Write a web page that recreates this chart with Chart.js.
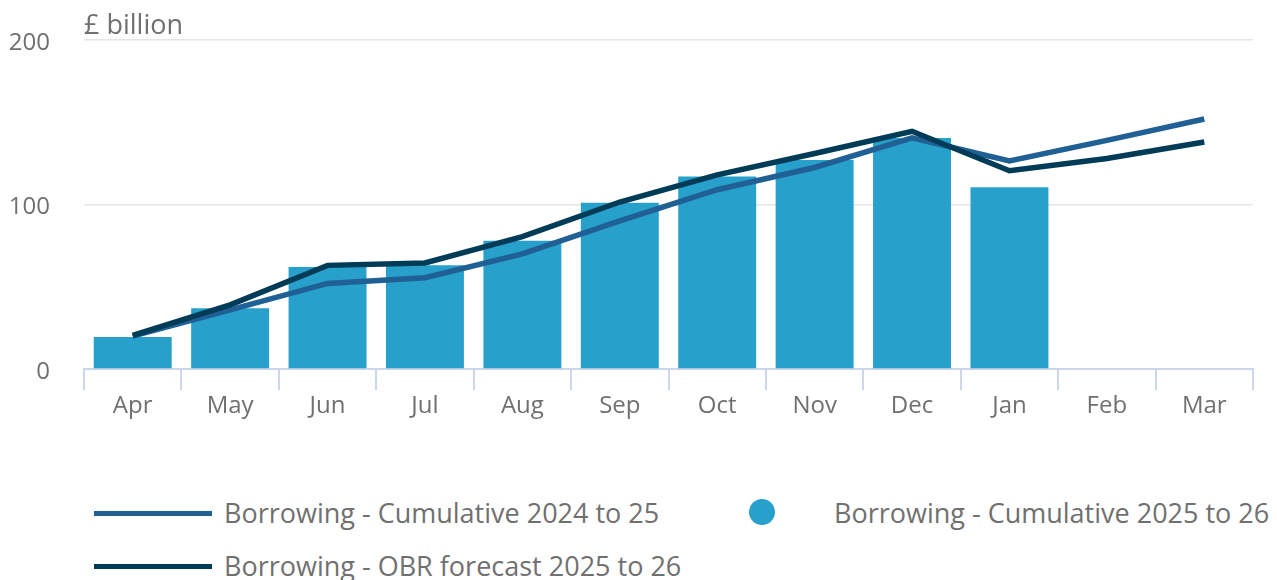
<!DOCTYPE html>
<html>
<head>
<meta charset="utf-8">
<script src="https://cdn.jsdelivr.net/npm/chart.js@4.4.1/dist/chart.umd.min.js"></script>
<style>
  html, body { margin: 0; padding: 0; background: #ffffff; overflow: hidden; }
  #wrap { position: relative; width: 1277px; height: 580px; }
  #chartBox { position: absolute; left: 0; top: 0; width: 1277px; height: 440px; }
  .legText { position: absolute; font-family: 'Open Sans', sans-serif; font-size: 27px; color: #707070; line-height: 27px; white-space: nowrap; }
  .legLine { position: absolute; width: 118px; height: 5px; }
  .legDot { position: absolute; width: 26px; height: 26px; border-radius: 50%; }
</style>
</head>
<body>
<div id="wrap">
  <div id="chartBox"><canvas id="c"></canvas></div>
  <div id="unit" class="legText" style="left:84px;top:10px">£ billion</div>
  <div id="legend"></div>
</div>
<script>
// ---- data ----
const months = ['Apr', 'May', 'Jun', 'Jul', 'Aug', 'Sep', 'Oct', 'Nov', 'Dec', 'Jan', 'Feb', 'Mar'];
const cumulative2526 = [19.5, 37, 62, 63, 78, 101, 117, 127, 140.5, 110.5, null, null];
const cumulative2425 = [20, 36, 52, 55.5, 70, 90, 109, 122.5, 140.5, 126.5, 139, 152];
const obrForecast2526 = [20.5, 39, 63, 64.5, 80.5, 101.5, 118, 131, 144.5, 120.5, 128, 138];
const yTicks = [0, 100, 200];
const seriesNames = ['Borrowing - Cumulative 2024 to 25', 'Borrowing - Cumulative 2025 to 26', 'Borrowing - OBR forecast 2025 to 26'];

const COL_BAR = '#27a0cc';
const COL_L1 = '#206095';
const COL_L2 = '#003c57';
const TEXT = '#707070';

Chart.defaults.font.family = "'Open Sans', sans-serif";
Chart.defaults.color = TEXT;

new Chart(document.getElementById('c'), {
  data: {
    labels: months,
    datasets: [
      { type: 'line', label: seriesNames[2], data: obrForecast2526, borderColor: COL_L2, backgroundColor: COL_L2,
        borderWidth: 5.5, pointRadius: 0, tension: 0, order: 0 },
      { type: 'line', label: seriesNames[0], data: cumulative2425, borderColor: COL_L1, backgroundColor: COL_L1,
        borderWidth: 5.5, pointRadius: 0, tension: 0, order: 1 },
      { type: 'bar', label: seriesNames[1], data: cumulative2526, backgroundColor: COL_BAR,
        borderWidth: 0, categoryPercentage: 1.0, barPercentage: 0.8, order: 2 }
    ]
  },
  options: {
    responsive: true,
    maintainAspectRatio: false,
    animation: false,
    layout: { padding: { left: 0, right: 24, top: 40, bottom: 0 } },
    plugins: {
      legend: { display: false },
      tooltip: { enabled: false },
      title: { display: false }
    },
    scales: {
      x: {
        type: 'category',
        offset: true,
        grid: { display: true, offset: true, drawOnChartArea: false, drawTicks: true, tickLength: 21, color: '#ccd6eb', lineWidth: 2 },
        border: { display: true, color: '#ccd6eb', width: 2 },
        ticks: { color: TEXT, font: { size: 24 }, padding: 2, maxRotation: 0, autoSkip: false },
        afterFit: (axis) => { axis.height = 71; }
      },
      y: {
        min: 0, max: 200,
        afterBuildTicks: (axis) => { axis.ticks = yTicks.map(v => ({ value: v })); },
        grid: { color: '#e6e6e6', lineWidth: 1.5, drawTicks: false },
        border: { display: false },
        ticks: { color: TEXT, font: { size: 24 }, padding: 34, labelOffset: 3 },
        afterFit: (axis) => { axis.width = 84; axis.paddingTop = 0; axis.paddingBottom = 0; }
      }
    }
  }
});

// ---- legend (HTML, real text) ----
const leg = document.getElementById('legend');
function add(html) { leg.insertAdjacentHTML('beforeend', html); }
add(`<div class="legLine" style="left:94px;top:511px;background:${COL_L1}"></div>`);
add(`<div class="legText" style="left:224px;top:499px">${seriesNames[0]}</div>`);
add(`<div class="legDot" style="left:749px;top:499px;background:${COL_BAR}"></div>`);
add(`<div class="legText" style="left:834px;top:499px">${seriesNames[1]}</div>`);
add(`<div class="legLine" style="left:94px;top:564px;background:${COL_L2}"></div>`);
add(`<div class="legText" style="left:224px;top:552px">${seriesNames[2]}</div>`);
</script>
</body>
</html>
